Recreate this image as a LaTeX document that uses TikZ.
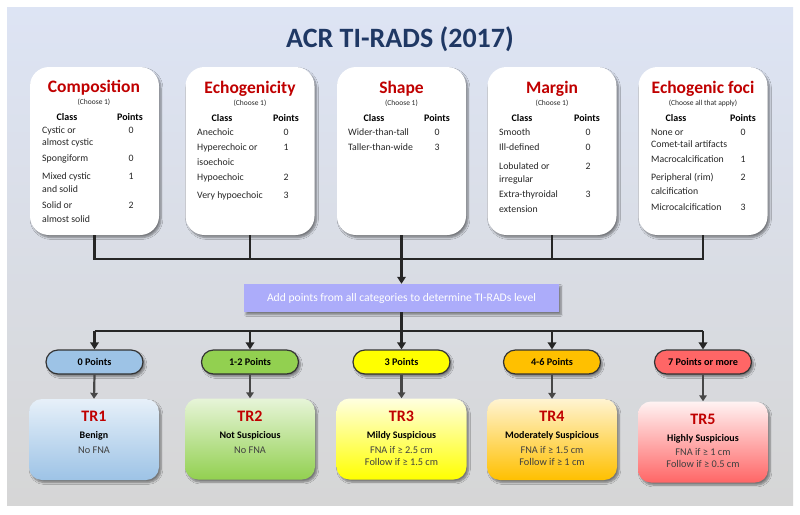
\documentclass[tikz,border=0pt]{standalone}
\usepackage{fontspec}
\setmainfont{Carlito}
\usetikzlibrary{shadows.blur,arrows.meta,calc}
\definecolor{bgtop}{RGB}{221,228,244}
\definecolor{bgmid}{RGB}{220,221,225}
\definecolor{bgbot}{RGB}{214,214,214}
\definecolor{navy}{RGB}{31,56,100}
\definecolor{dred}{RGB}{192,0,0}
\definecolor{txt}{RGB}{38,38,38}
\definecolor{lav}{RGB}{172,172,250}
\definecolor{c1}{RGB}{157,195,230}
\definecolor{c2}{RGB}{146,208,80}
\definecolor{c3}{RGB}{255,255,0}
\definecolor{c4}{RGB}{255,192,0}
\definecolor{c5}{RGB}{255,102,102}
\newcommand\citem[4]{\node[itm,anchor=base west] (#1) at (#2,#3) {#4};}
\newcommand\cpts[4]{\node[itm,anchor=base] (#1) at (#2,#3) {#4};}
\newcommand\chead[5]{%
  \node[hdr,anchor=base] (#1c) at (#2,#4) {Class};
  \node[hdr,anchor=base] (#1p) at (#3,#4) {Points};}
\begin{document}
\begin{tikzpicture}[x=1pt,y=-1pt,
  shd/.style={blur shadow={shadow xshift=2pt,shadow yshift=-2.5pt,shadow blur steps=6,shadow opacity=45}},
  catbox/.style={fill=white,rounded corners=19pt,minimum width=129pt,minimum height=168pt,shd},
  cattitle/.style={inner sep=0pt,text=dred,font=\bfseries\fontsize{17.5}{20}\selectfont},
  choose/.style={inner sep=0pt,text=txt,font=\fontsize{7.5}{9}\selectfont},
  hdr/.style={inner sep=0pt,text=black,font=\bfseries\fontsize{10}{12}\selectfont},
  itm/.style={inner sep=0pt,text=txt,font=\fontsize{9.8}{11}\selectfont},
  bus/.style={line width=2.6pt,draw=black!85},
  busarrow/.style={bus,-{Triangle[length=7pt,width=8.5pt]}},
  grayarrow/.style={line width=2.2pt,draw=black!72,-{Triangle[length=6pt,width=7.5pt]}},
  pill/.style={draw=black!80,line width=1.2pt,rounded corners=12pt,minimum width=97pt,minimum height=24pt,inner sep=0pt,font=\bfseries\fontsize{10.2}{12}\selectfont,shd},
  trbox/.style={rounded corners=13pt,minimum width=130pt,minimum height=81pt,shd},
  trname/.style={inner sep=0pt,text=dred,font=\bfseries\fontsize{16}{18}\selectfont},
  trdesc/.style={inner sep=0pt,text=black,font=\bfseries\fontsize{10}{12}\selectfont},
  trdet/.style={inner sep=0pt,text=black!75,font=\fontsize{10.3}{12}\selectfont}
]
\useasboundingbox (0,0) rectangle (800,514);
\fill[white] (0,0) rectangle (800,514);
\shade[top color=bgtop,middle color=bgmid,bottom color=bgbot] (7,7) rectangle (793,505);

\node[inner sep=0pt,anchor=base,text=navy,font=\bfseries\fontsize{28}{32}\selectfont] (title) at (400,47) {ACR TI-RADS (2017)};

% category boxes
\node[catbox] (comp) at (94.5,151) {};
\node[catbox] (echo) at (250,151) {};
\node[catbox] (shape) at (401.5,151) {};
\node[catbox] (marg) at (552,151) {};
\node[catbox] (foci) at (703,151) {};

% connectors top
\coordinate (bus1) at (401.5,259);
\draw[bus] (comp.south) -- (comp.south |- bus1) -| (foci.south);
\draw[bus] (echo.south) -- (echo.south |- bus1);
\draw[bus] (marg.south) -- (marg.south |- bus1);

\node[fill=lav,minimum width=315pt,minimum height=28pt,inner sep=0pt,text=white,font=\fontsize{11.6}{13}\selectfont,shd] (add) at (401.5,298) {Add points from all categories to determine TI-RADs level};
\draw[busarrow] (shape.south) -- (add.north);

% Composition
\node[cattitle,anchor=base] (compt) at (94,92.5) {Composition};
\node[choose,anchor=base] (compch) at (94,104.5) {(Choose 1)};
\chead{comph}{67}{130}{120.5}{}
\citem{ca1}{42}{133}{Cystic or}
\citem{ca2}{42}{145}{almost cystic}
\cpts{cp1}{131}{133}{0}
\citem{cb1}{42}{161}{Spongiform}
\cpts{cp2}{131}{161}{0}
\citem{cc1}{42}{179}{Mixed cystic}
\citem{cc2}{42}{192}{and solid}
\cpts{cp3}{131}{179}{1}
\citem{cd1}{42}{208}{Solid or}
\citem{cd2}{42}{222}{almost solid}
\cpts{cp4}{131}{208}{2}

% Echogenicity
\node[cattitle,anchor=base] (echot) at (250,93.5) {Echogenicity};
\node[choose,anchor=base] (echoch) at (250,105.5) {(Choose 1)};
\chead{echoh}{222}{286}{121.5}{}
\citem{ea1}{197}{135}{Anechoic}
\cpts{ep1}{286}{135}{0}
\citem{eb1}{197}{150}{Hyperechoic or}
\citem{eb2}{197}{165}{isoechoic}
\cpts{ep2}{286}{150}{1}
\citem{ec1}{197}{180}{Hypoechoic}
\cpts{ep3}{286}{180}{2}
\citem{ed1}{197}{198}{Very hypoechoic}
\cpts{ep4}{286}{198}{3}

% Shape
\node[cattitle,anchor=base] (shapet) at (401.5,93.5) {Shape};
\node[choose,anchor=base] (shapech) at (401.5,105.5) {(Choose 1)};
\chead{shapeh}{374}{437}{121.5}{}
\citem{sa1}{348}{135}{Wider-than-tall}
\cpts{sp1}{437}{135}{0}
\citem{sb1}{348}{150}{Taller-than-wide}
\cpts{sp2}{437}{150}{3}

% Margin
\node[cattitle,anchor=base] (margt) at (552,93.5) {Margin};
\node[choose,anchor=base] (margch) at (552,105.5) {(Choose 1)};
\chead{margh}{522}{587}{121.5}{}
\citem{ma1}{499}{135}{Smooth}
\cpts{mp1}{588}{135}{0}
\citem{mb1}{499}{150}{Ill-defined}
\cpts{mp2}{588}{150}{0}
\citem{mc1}{499}{169}{Lobulated or}
\citem{mc2}{499}{182}{irregular}
\cpts{mp3}{588}{169}{2}
\citem{md1}{499}{197}{Extra-thyroidal}
\citem{md2}{499}{212}{extension}
\cpts{mp4}{588}{197}{3}

% Echogenic foci
\node[cattitle,anchor=base] (focit) at (703,93.5) {Echogenic foci};
\node[choose,anchor=base] (focich) at (703,105.5) {(Choose all that apply)};
\chead{focih}{676}{743}{121.5}{}
\citem{fa1}{651}{135}{None or}
\citem{fa2}{651}{147}{Comet-tail artifacts}
\cpts{fp1}{743}{135}{0}
\citem{fb1}{651}{162}{Macrocalcification}
\cpts{fp2}{743}{162}{1}
\citem{fc1}{651}{180}{Peripheral (rim)}
\citem{fc2}{651}{194}{calcification}
\cpts{fp3}{743}{180}{2}
\citem{fd1}{651}{210}{Microcalcification}
\cpts{fp4}{743}{210}{3}

% pills
\node[pill,fill=c1] (p1) at (94.5,362) {0 Points};
\node[pill,fill=c2] (p2) at (250,362) {1-2 Points};
\node[pill,fill=c3] (p3) at (401.5,362) {3 Points};
\node[pill,fill=c4] (p4) at (552,362) {4-6 Points};
\node[pill,fill=c5] (p5) at (703,362) {7 Points or more};

\coordinate (bus2) at (401.5,331);
\draw[bus] (add.south) -- (bus2);
\draw[bus] (p1.north |- bus2) -- (p5.north |- bus2);
\foreach \p in {p1,p2,p3,p4,p5}{\draw[busarrow] (\p.north |- bus2) -- (\p.north);}

% TR boxes
\node[trbox,top color=c1!25!white,bottom color=c1] (tr1) at (94,439.5) {};
\node[trbox,top color=c2!22!white,bottom color=c2] (tr2) at (250,439) {};
\node[trbox,top color=c3!12!white,bottom color=c3] (tr3) at (401.5,439) {};
\node[trbox,top color=c4!18!white,bottom color=c4] (tr4) at (552,439.5) {};
\node[trbox,top color=c5!8!white,bottom color=c5] (tr5) at (703,442) {};

\foreach \i in {1,...,5}{\draw[grayarrow] (p\i.south) -- (tr\i.north);}

\node[trname,anchor=base] (tr1n) at (94,421) {TR1};
\node[trdesc,anchor=base] (tr1d) at (94,438.5) {Benign};
\node[trdet,anchor=base] (tr1a) at (94,453.5) {No FNA};

\node[trname,anchor=base] (tr2n) at (250,421) {TR2};
\node[trdesc,anchor=base] (tr2d) at (250,438.5) {Not Suspicious};
\node[trdet,anchor=base] (tr2a) at (250,453.5) {No FNA};

\node[trname,anchor=base] (tr3n) at (401.5,421) {TR3};
\node[trdesc,anchor=base] (tr3d) at (401.5,438.5) {Mildy Suspicious};
\node[trdet,anchor=base] (tr3a) at (401.5,453.5) {FNA if ≥ 2.5 cm};
\node[trdet,anchor=base] (tr3b) at (401.5,465.5) {Follow if ≥ 1.5 cm};

\node[trname,anchor=base] (tr4n) at (552,421) {TR4};
\node[trdesc,anchor=base] (tr4d) at (552,438.5) {Moderately Suspicious};
\node[trdet,anchor=base] (tr4a) at (552,453.5) {FNA if ≥ 1.5 cm};
\node[trdet,anchor=base] (tr4b) at (552,465.5) {Follow if ≥ 1 cm};

\node[trname,anchor=base] (tr5n) at (703,424) {TR5};
\node[trdesc,anchor=base] (tr5d) at (703,441) {Highly Suspicious};
\node[trdet,anchor=base] (tr5a) at (703,455) {FNA if ≥ 1 cm};
\node[trdet,anchor=base] (tr5b) at (703,467) {Follow if ≥ 0.5 cm};
\end{tikzpicture}
\end{document}
